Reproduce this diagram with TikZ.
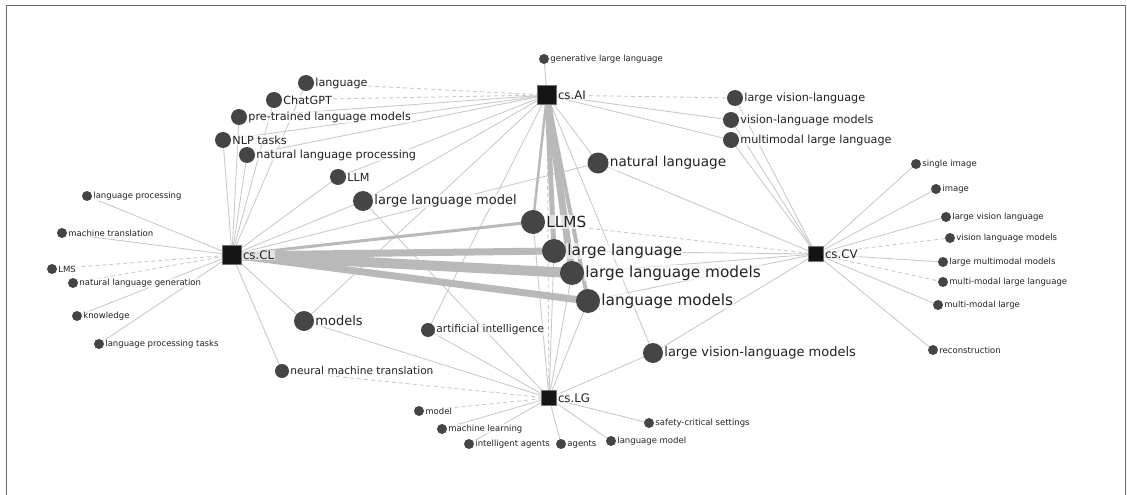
\documentclass[tikz,border=0pt]{standalone}
\usepackage{fontspec}
\setmainfont{DejaVu Sans}
\usetikzlibrary{backgrounds}
\definecolor{dotc}{HTML}{454545}
\definecolor{hubc}{HTML}{151515}
\definecolor{edgec}{HTML}{CACACA}
\definecolor{thickc}{HTML}{B9B9B9}
\definecolor{textc}{HTML}{222222}
\definecolor{framec}{HTML}{6A6A6A}
\begin{document}
\begin{tikzpicture}[x=1pt,y=-1pt,
  dot/.style={circle, fill=dotc, inner sep=0pt},
  dA/.style={dot, minimum size=24pt},
  dB/.style={dot, minimum size=20pt},
  dC/.style={dot, minimum size=16pt},
  dD/.style={dot, minimum size=14pt},
  dE/.style={dot, minimum size=10pt},
  hub/.style={rectangle, fill=hubc, draw=hubc!60, line width=0.6pt, inner sep=0pt},
  lab/.style={inner sep=1pt, text=textc, fill=white, fill opacity=0.6, text opacity=1},
  fA/.style={lab, font=\fontsize{15.3}{16}\selectfont},
  fB/.style={lab, font=\fontsize{13}{14}\selectfont},
  fC/.style={lab, font=\fontsize{11.2}{12}\selectfont},
  fD/.style={lab, font=\fontsize{10.6}{11}\selectfont},
  fE/.style={lab, font=\fontsize{8.5}{9}\selectfont},
  fH/.style={lab, font=\fontsize{11.8}{12}\selectfont},
  edge/.style={draw=edgec, line width=0.9pt},
  dedge/.style={draw=edgec, line width=0.9pt, dash pattern=on 4pt off 3pt},
  tedge/.style={draw=thickc, line cap=butt}
]
\useasboundingbox (0,0) rectangle (1127,495);
\draw[framec, line width=1.4pt] (6.5,495) -- (6.5,5.5) -- (1125.5,5.5) -- (1125.5,495);

% hubs
\node[hub, minimum size=19pt, label={[fH]east:cs.AI}] (ai) at (547,95) {};
\node[hub, minimum size=19pt, label={[fH]east:cs.CL}] (cl) at (232,255) {};
\node[hub, minimum size=15pt, label={[fH]east:cs.CV}] (cv) at (816,254) {};
\node[hub, minimum size=15pt, label={[fH]east:cs.LG}] (lg) at (549,398) {};

% big terms
\node[dA, label={[fA]east:LLMS}] (llms) at (533,222) {};
\node[dA, label={[fA]east:large language}] (lgl) at (554,251) {};
\node[dA, label={[fA]east:large language models}] (llmo) at (572,273) {};
\node[dA, label={[fA]east:language models}] (lmo) at (588,301) {};

% medium-big terms
\node[dB, minimum size=21pt, label={[fB, font=\fontsize{13.6}{14}\selectfont]east:natural language}] (natl) at (598,163) {};
\node[dB, label={[fB]east:large language model}] (llm1) at (363,201) {};
\node[dB, label={[fB]east:models}] (mods) at (304,321) {};
\node[dB, label={[fB]east:large vision-language models}] (lvlm) at (653,353) {};

% medium terms
\node[dC, label={[fC]east:language}] (lang) at (306,83) {};
\node[dC, label={[fC]east:ChatGPT}] (chat) at (274,100) {};
\node[dC, label={[fC]east:pre-trained language models}] (ptlm) at (239,117) {};
\node[dC, label={[fC]east:NLP tasks}] (nlpt) at (223,140) {};
\node[dC, label={[fC]east:natural language processing}] (nlp) at (247,155) {};
\node[dC, label={[fC]east:LLM}] (llm) at (338,177) {};
\node[dC, label={[fC]east:large vision-language}] (lvl) at (735,98) {};
\node[dC, label={[fC]east:vision-language models}] (vlm) at (731,120) {};
\node[dC, label={[fC]east:multimodal large language}] (mmll) at (731,140) {};
\node[dD, label={[fD]east:artificial intelligence}] (artint) at (428,330) {};
\node[dD, label={[fD]east:neural machine translation}] (nmt) at (282,371) {};

% small terms
\node[dE, label={[fE]east:generative large language}] (gen) at (544,59) {};
\node[dE, label={[fE]east:language processing}] (lp) at (87,196) {};
\node[dE, label={[fE]east:machine translation}] (mt) at (62,233) {};
\node[dE, label={[fE]east:LMS}] (lms) at (52,269) {};
\node[dE, label={[fE]east:natural language generation}] (nlg) at (73,283) {};
\node[dE, label={[fE]east:knowledge}] (know) at (77,316) {};
\node[dE, label={[fE]east:language processing tasks}] (lpt) at (99,344) {};
\node[dE, label={[fE]east:single image}] (si) at (916,164) {};
\node[dE, label={[fE]east:image}] (img) at (936,189) {};
\node[dE, label={[fE]east:large vision language}] (lvl2) at (946,217) {};
\node[dE, label={[fE]east:vision language models}] (vlm2) at (950,238) {};
\node[dE, label={[fE]east:large multimodal models}] (lmm) at (943,262) {};
\node[dE, label={[fE]east:multi-modal large language}] (mml2) at (943,282) {};
\node[dE, label={[fE]east:multi-modal large}] (mml) at (938,305) {};
\node[dE, label={[fE]east:reconstruction}] (recon) at (933,350) {};
\node[dE, label={[fE]east:model}] (model) at (419,411) {};
\node[dE, label={[fE]east:machine learning}] (ml) at (442,429) {};
\node[dE, label={[fE]east:intelligent agents}] (ia) at (469,444) {};
\node[dE, label={[fE]east:agents}] (agents) at (561,444) {};
\node[dE, label={[fE]east:language model}] (lmod) at (611,441) {};
\node[dE, label={[fE]east:safety-critical settings}] (safe) at (649,423) {};

\begin{scope}[on background layer]
% cs.CL
\foreach \n in {lp,mt,know,lpt,nlpt,nlp,ptlm,chat,lang,llm,llm1,mods,nmt,natl}
  \draw[edge] (cl.center) -- (\n.center);
\foreach \n in {lms,nlg}
  \draw[dedge] (cl.center) -- (\n.center);
% cs.AI
\foreach \n in {gen,ptlm,nlpt,nlp,llm,llm1,natl,vlm,mmll,artint,mods,lvlm}
  \draw[edge] (ai.center) -- (\n.center);
\foreach \n in {lvl,lang,chat}
  \draw[dedge] (ai.center) -- (\n.center);
% cs.CV
\foreach \n in {si,img,lvl2,lmm,mml,recon,lvl,vlm,mmll,natl,lgl,llmo,lmo,lvlm}
  \draw[edge] (cv.center) -- (\n.center);
\foreach \n in {vlm2,mml2,llms}
  \draw[dedge] (cv.center) -- (\n.center);
% cs.LG
\foreach \n in {ml,ia,agents,lmod,safe,lvlm,lmo,llmo,lgl,llms,artint,mods,llm1}
  \draw[edge] (lg.center) -- (\n.center);
\foreach \n in {model,nmt}
  \draw[dedge] (lg.center) -- (\n.center);
\draw[dedge] (ai.center) -- (lg.center);
% thick edges
\draw[tedge, line width=3pt] (cl.center) -- (llms.center);
\draw[tedge, line width=7pt] (cl.center) -- (lgl.center);
\draw[tedge, line width=10pt] (cl.center) -- (llmo.center);
\draw[tedge, line width=7pt] (cl.center) -- (lmo.center);
\draw[tedge, line width=2.5pt] (ai.center) -- (llms.center);
\draw[tedge, line width=5pt] (ai.center) -- (lgl.center);
\draw[tedge, line width=7pt] (ai.center) -- (llmo.center);
\draw[tedge, line width=4pt] (ai.center) -- (lmo.center);
\end{scope}
\end{tikzpicture}
\end{document}
